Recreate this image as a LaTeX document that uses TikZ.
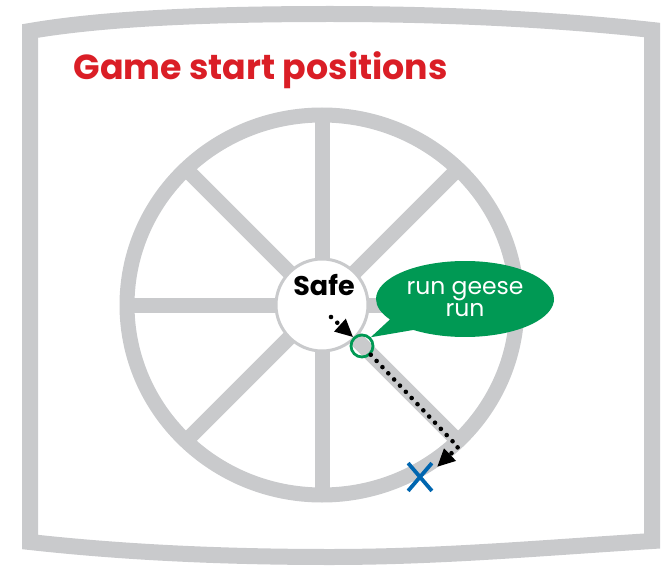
\documentclass[tikz,border=0pt]{standalone}
\usepackage{fontspec}
\setsansfont{Poppins}
\newfontfamily\titlefont{Poppins}
\usetikzlibrary{positioning, arrows.meta, shapes.geometric, shapes.callouts, shapes.misc}
\definecolor{rimgray}{RGB}{201,202,204}
\definecolor{titlered}{RGB}{218,30,38}
\definecolor{bubblegreen}{RGB}{0,153,84}
\definecolor{crossblue}{RGB}{0,102,176}
\tikzset{
  frameline/.style={draw=rimgray, line width=16, line join=miter},
  spoke/.style={draw=rimgray, line width=15},
  dotline/.style={line width=4.6, line cap=round, dash pattern=on 0pt off 8.5pt,
    -{Triangle[length=18pt, width=16pt]}},
}
\begin{document}
\begin{tikzpicture}[x=1pt, y=-1pt]
    \useasboundingbox (0,0) rectangle (669,567);
    % outer frame
    \draw[frameline]
      (30,31) .. controls (100,19) and (200,14) .. (330,14)
              .. controls (460,14) and (570,21) .. (652,30)
      -- (652,541)
              .. controls (540,548) and (440,557) .. (330,557)
              .. controls (220,557) and (120,552) .. (30,542)
      -- cycle;

    \node[anchor=base west, text=titlered, font=\titlefont\bfseries\fontsize{34.8}{40}\selectfont]
      (title) at (70,80) {Game start positions};

    % wheel
    \node[ellipse, draw=rimgray, line width=15, outer sep=0pt,
      minimum width=390, minimum height=380] (rim) at (322,305) {};
    \foreach \a in {0,45,...,315}
      \draw[spoke] (rim.center) -- (rim.\a);
    \node[circle, draw=rimgray, line width=3, fill=white, minimum size=92] (hub) at (rim.center) {};
    \node[font=\sffamily\bfseries\fontsize{27}{30}\selectfont] (safe) at (324,285) {Safe};

    % start and goal
    \node[circle, draw=bubblegreen, line width=2.8, minimum size=22, inner sep=0pt] (start) at (362,346) {};
    \node[cross out, draw=crossblue, line width=3.8, minimum width=20, minimum height=24, inner sep=0pt] (goal) at (420,477) {};
    \coordinate (dotsA) at (331,317);
    \coordinate (bend) at (458,447);
    \coordinate (tipB) at (437,467);

    \node[ellipse callout, fill=bubblegreen, minimum width=178, minimum height=76,
      callout absolute pointer={(start.north east)}, callout pointer arc=22,
      text=white, align=center, font=\sffamily\fontsize{23.5}{22}\selectfont]
      (bubble) at (465,299) {run geese\\run};

    \draw[dotline] (dotsA) -- (start.north west);
    \draw[dotline] (start.south east) -- (bend) -- (tipB);
\end{tikzpicture}
\end{document}
